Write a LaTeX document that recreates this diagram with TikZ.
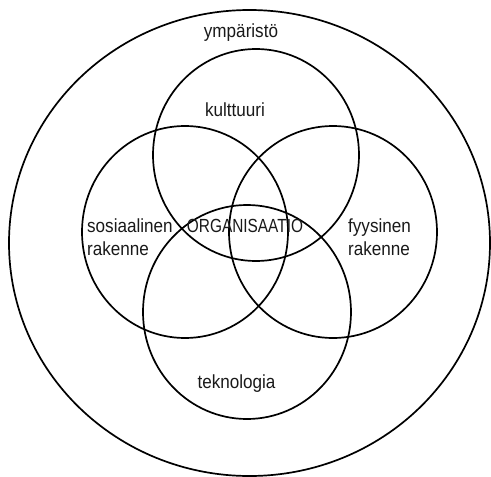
\documentclass[tikz,border=0pt]{standalone}
\usepackage{fontspec}
\setmainfont{Liberation Sans}
\begin{document}
\begin{tikzpicture}[x=1pt,y=-1pt,
  ring/.style={line width=1.7pt, black},
  lbl/.style={font=\fontsize{19}{23}\selectfont, inner sep=0pt, xscale=0.9, text=black!90},
  caps/.style={lbl, xscale=0.9}]
\useasboundingbox (0,0) rectangle (491,477);

% environment and the four overlapping areas
\draw[ring] (249.5,243) ellipse [x radius=240.5, y radius=233];
\draw[ring] (256,155) ellipse [x radius=103, y radius=106];
\draw[ring] (185,232) ellipse [x radius=103, y radius=106];
\draw[ring] (333,232) ellipse [x radius=104, y radius=106];
\draw[ring] (247,312) ellipse [x radius=104, y radius=107];

% labels
\node[lbl, anchor=base] (env) at (241,37) {ympäristö};
\node[lbl, anchor=base] (cult) at (235,116) {kulttuuri};
\node[lbl, anchor=base] (tech) at (236.5,388) {teknologia};
\node[lbl, anchor=base west] (soc) at (87,232) {sosiaalinen};
\node[lbl, anchor=base west] (soc2) at (87,255) {rakenne};
\node[lbl, anchor=base west] (phys) at (348,232) {fyysinen};
\node[lbl, anchor=base west] (phys2) at (348,255) {rakenne};
\node[caps, anchor=base] (org) at (245,232) {ORGANISAATIO};
\end{tikzpicture}
\end{document}
